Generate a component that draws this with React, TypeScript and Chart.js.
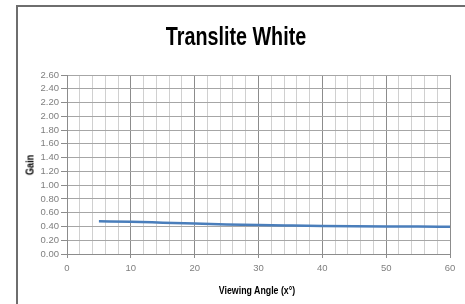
import React, { useEffect, useRef } from "react";
import { Chart, registerables } from "chart.js";

Chart.register(...registerables);

const angles = [5, 10, 15, 20, 25, 30, 35, 40, 45, 50, 55, 60];
const gains = [0.475, 0.468, 0.455, 0.442, 0.43, 0.42, 0.413, 0.407, 0.403, 0.4, 0.398, 0.397];
const yTicks = [0, 0.2, 0.4, 0.6, 0.8, 1.0, 1.2, 1.4, 1.6, 1.8, 2.0, 2.2, 2.4, 2.6];
const xTicks = [0, 2, 4, 6, 8, 10, 12, 14, 16, 18, 20, 22, 24, 26, 28, 30, 32, 34, 36, 38, 40, 42, 44, 46, 48, 50, 52, 54, 56, 58, 60];
const titleText = "Translite White";
const xTitle = "Viewing Angle (x°)";
const yTitle = "Gain";

const tickFont = "'Liberation Sans', Arial, sans-serif";
const titleFont = "'Liberation Sans', Arial, sans-serif";

export default function App() {
  const ref = useRef<HTMLCanvasElement | null>(null);
  useEffect(() => {
    if (!ref.current) return;
    const chart = new Chart(ref.current, {
      type: "line",
      data: {
        datasets: [
          {
            data: angles.map((a, i) => ({ x: a, y: gains[i] })),
            borderColor: "#4a7ebb",
            borderWidth: 2.5,
            pointRadius: 0,
            cubicInterpolationMode: "monotone",
            fill: false,
          },
        ],
      },
      options: {
        animation: false,
        responsive: false,
        maintainAspectRatio: false,
        layout: { padding: { left: 20, right: 15, top: 75, bottom: 4 } },
        plugins: {
          legend: { display: false },
          tooltip: { enabled: false },
          title: { display: false },
        },
        scales: {
          x: {
            type: "linear",
            min: 0,
            max: 60,
            afterBuildTicks: (s: any) => {
              s.ticks = xTicks.map((v) => ({ value: v }));
            },
            afterFit: (s: any) => {
              s.height = 46;
            },
            ticks: {
              autoSkip: false,
              maxRotation: 0,
              color: "#7f7f7f",
              font: { family: tickFont, size: 9.5 },
              padding: 5,
              callback: (v: any) => (Number(v) % 10 === 0 ? String(v) : ""),
            },
            grid: {
              color: (c: any) => (c.tick && c.tick.value % 10 === 0 ? "#8c8c8c" : "#d0d0d0"),
              tickColor: (c: any) => (c.tick && c.tick.value % 10 === 0 ? "#8c8c8c" : "rgba(0,0,0,0)"),
              tickLength: 4,
              lineWidth: 1,
            },
            border: { color: "#8c8c8c" },
          },
          y: {
            min: 0,
            max: 2.6,
            afterBuildTicks: (s: any) => {
              s.ticks = yTicks.map((v) => ({ value: v }));
            },
            afterFit: (s: any) => {
              s.width = 47;
            },
            ticks: {
              autoSkip: false,
              color: "#7f7f7f",
              font: { family: tickFont, size: 9.5 },
              padding: 2,
              callback: (v: any) => Number(v).toFixed(2),
            },
            grid: {
              color: "#a6a6a6",
              tickColor: "#8c8c8c",
              tickLength: 6,
              lineWidth: 1,
            },
            border: { color: "#8c8c8c" },
          },
        },
      },
    });
    return () => chart.destroy();
  }, []);
  const textBase: React.CSSProperties = {
    position: "absolute",
    fontFamily: titleFont,
    fontWeight: "bold",
    color: "#000",
    whiteSpace: "nowrap",
    lineHeight: 1,
  };
  return (
    <div style={{ position: "absolute", left: 0, top: 0, width: 465, height: 304, background: "#fff", overflow: "hidden" }}>
      <div
        style={{
          position: "absolute",
          left: 16,
          top: 5,
          right: -10,
          bottom: -10,
          borderLeft: "2px solid #6e6e6e",
          borderTop: "2px solid #6e6e6e",
        }}
      />
      <canvas ref={ref} width={465} height={304} style={{ position: "absolute", left: 0, top: 0 }} />
      <div
        style={{
          ...textBase,
          left: 236,
          top: 24,
          fontSize: 25,
          transform: "translateX(-50%) scaleX(0.79)",
        }}
      >
        {titleText}
      </div>
      <div
        style={{
          ...textBase,
          left: 257,
          top: 285,
          fontSize: 11,
          transform: "translateX(-50%) scaleX(0.8)",
        }}
      >
        {xTitle}
      </div>
      <div
        style={{
          ...textBase,
          left: 30,
          top: 165,
          fontSize: 11,
          transform: "translate(-50%, -50%) rotate(-90deg) scaleX(0.83)",
        }}
      >
        {yTitle}
      </div>
    </div>
  );
}
